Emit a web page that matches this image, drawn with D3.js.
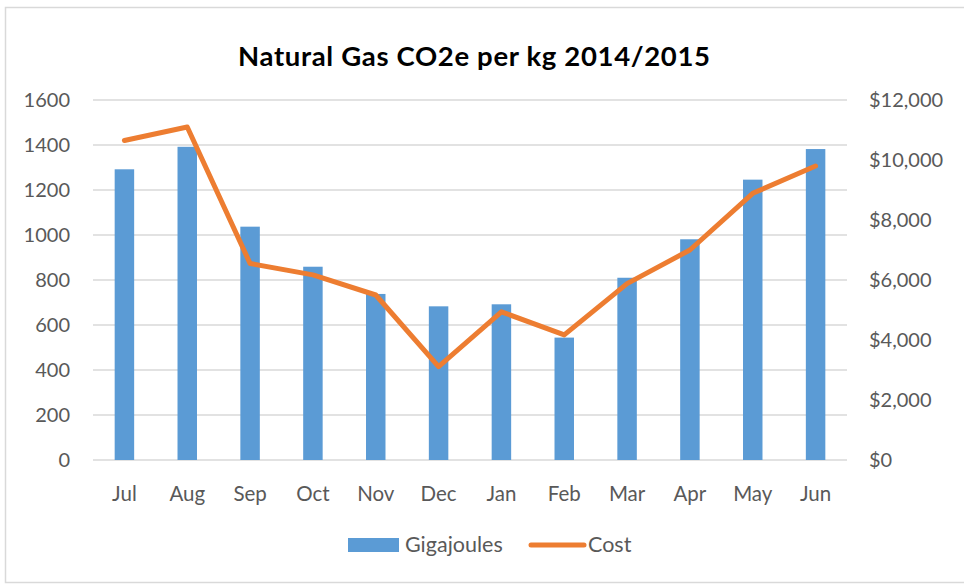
<!DOCTYPE html>
<html><head><meta charset="utf-8">
<script src="https://cdn.jsdelivr.net/npm/d3@7"></script>
<style>body{margin:0;background:#fff;}svg{display:block;}</style>
</head><body>
<svg id="c" width="964" height="585"></svg>
<script>
const months = ["Jul","Aug","Sep","Oct","Nov","Dec","Jan","Feb","Mar","Apr","May","Jun"];
const gigajoules = [1292,1392,1037,859,738,683,692,544,810,981,1246,1382];
const cost = [10650,11100,6550,6170,5500,3110,4940,4170,5880,7000,8890,9800];
const leftTicks = [0,200,400,600,800,1000,1200,1400,1600];
const rightTicks = [0,2000,4000,6000,8000,10000,12000];
const title = "Natural Gas CO2e per kg 2014/2015";
const seriesNames = ["Gigajoules","Cost"];

const svg = d3.select("#c");
const font = "Lato, 'Open Sans', sans-serif";
const txt = "#595959";

svg.append("rect").attr("x",5.5).attr("y",7.5).attr("width",970).attr("height",575)
  .attr("fill","#fff").attr("stroke","#d9d9d9").attr("stroke-width",1.5);

const x0 = 93, x1 = 847, yTop = 100, yBot = 460;
const x = d3.scaleBand().domain(months).range([x0,x1]).paddingInner(0.69).paddingOuter(0.345);
const yL = d3.scaleLinear().domain([0,1600]).range([yBot,yTop]);
const yR = d3.scaleLinear().domain([0,12000]).range([yBot,yTop]);

// gridlines
svg.append("g").selectAll("line").data(leftTicks).join("line")
  .attr("x1",x0).attr("x2",x1).attr("y1",d=>yL(d)).attr("y2",d=>yL(d))
  .attr("stroke","#d9d9d9").attr("stroke-width",1.5);

// left axis
const gl = svg.append("g").attr("transform",`translate(${x0-23},0)`)
  .call(d3.axisLeft(yL).tickValues(leftTicks).tickSize(0).tickPadding(0).tickFormat(d3.format("d")));
gl.select(".domain").remove();
gl.selectAll("text").attr("font-family",font).attr("font-size",20).attr("fill",txt);

// right axis
const gr = svg.append("g").attr("transform",`translate(${x1+22},0)`)
  .call(d3.axisRight(yR).tickValues(rightTicks).tickSize(0).tickPadding(0).tickFormat(d=>"$"+d3.format(",")(d)));
gr.select(".domain").remove();
gr.selectAll("text").attr("font-family",font).attr("font-size",20).attr("fill",txt);

// x axis
const gx = svg.append("g").attr("transform",`translate(0,${yBot})`)
  .call(d3.axisBottom(x).tickSize(0).tickPadding(26));
gx.select(".domain").remove();
gx.selectAll("text").attr("font-family",font).attr("font-size",20.5).attr("fill",txt);

// bars
svg.append("g").selectAll("rect").data(months).join("rect")
  .attr("x",d=>x(d)).attr("width",x.bandwidth())
  .attr("y",(d,i)=>yL(gigajoules[i])).attr("height",(d,i)=>yBot-yL(gigajoules[i]))
  .attr("fill","#5b9bd5");

// line
const line = d3.line().x((d,i)=>x(months[i])+x.bandwidth()/2).y(d=>yR(d));
svg.append("path").datum(cost).attr("d",line).attr("fill","none")
  .attr("stroke","#ed7d31").attr("stroke-width",5).attr("stroke-linejoin","round").attr("stroke-linecap","round");

// title
svg.append("text").attr("x",474).attr("y",66).attr("text-anchor","middle")
  .attr("font-family",font).attr("font-weight","bold").attr("font-size",27.5).attr("fill","#000")
  .attr("textLength",472).attr("lengthAdjust","spacing")
  .text(title);

// legend
const lg = svg.append("g");
lg.append("rect").attr("x",348).attr("y",538).attr("width",51).attr("height",14).attr("fill","#5b9bd5");
lg.append("text").attr("x",405).attr("y",552).attr("font-family",font).attr("font-size",21.5).attr("fill",txt).text(seriesNames[0]);
lg.append("line").attr("x1",531).attr("x2",584).attr("y1",545).attr("y2",545)
  .attr("stroke","#ed7d31").attr("stroke-width",5).attr("stroke-linecap","round");
lg.append("text").attr("x",588).attr("y",552).attr("font-family",font).attr("font-size",21.5).attr("fill",txt).text(seriesNames[1]);
</script>
</body></html>
